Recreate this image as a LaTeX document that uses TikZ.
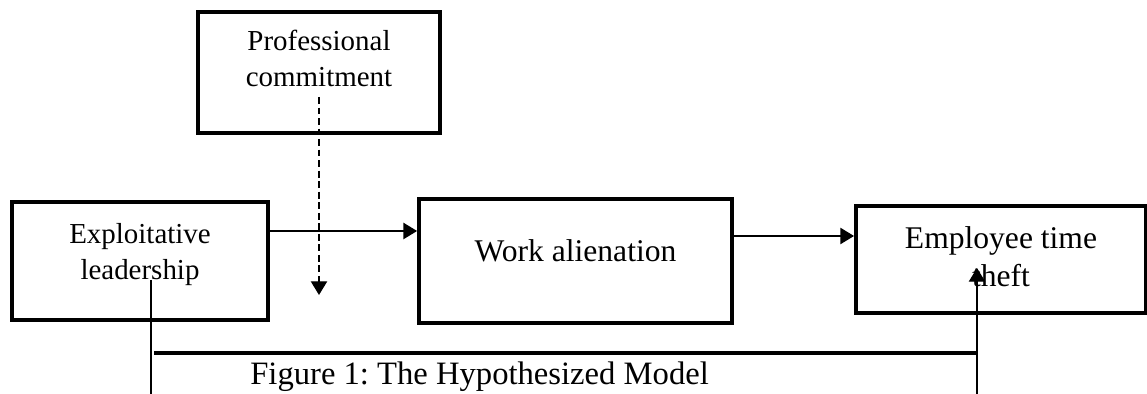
\documentclass[tikz,border=0pt]{standalone}
\usepackage{fontspec}
\setmainfont{Liberation Serif}
\frenchspacing
\usetikzlibrary{arrows.meta}
\tikzset{
   every path/.style={>={Triangle[length=5.2pt,width=6.2pt]}},
   box/.style={draw,line width=1.5pt,align=center,inner sep=0pt},
   smallbox/.style={box,font=\fontsize{11}{13.7}\selectfont},
   bigbox/.style={box,font=\fontsize{12}{14.4}\selectfont},
   arr/.style={->,line width=0.5pt},
   mod/.style={->,dash pattern=on 2.6pt off 1.4pt,line width=0.5pt},
   link/.style={line width=0.5pt},
   bar/.style={line width=1.25pt},
}
\newcommand{\darr}[2]{\draw[arr] (#1) -- (#2)}

\begin{document}
\begin{tikzpicture}[x=0.38pt,y=-0.38pt]
      \useasboundingbox (0,0) rectangle (1147,394);

      \node[smallbox,minimum width=97.3pt,minimum height=44.8pt,text depth=7pt] (ExpL) at (140,261) {Exploitative\\leadership};
      \node[smallbox,minimum width=92pt,minimum height=46pt,text depth=10.8pt] (ProfC) at (319,72.5) {Professional\\commitment};
      \node[bigbox,minimum width=118.9pt,minimum height=47.1pt,text depth=7.6pt] (WorkA) at (575.5,261) {Work alienation};
      \node[bigbox,minimum width=110.2pt,minimum height=40.7pt,text depth=2.3pt] (TimeT) at (1001,259.5) {Employee time\\theft};

      \darr{ExpL.east |- 0,231}{WorkA.west |- 0,231};
      \darr{WorkA.east |- 0,236}{TimeT.west |- 0,236};

      \coordinate (Mod) at (319,295);
      \draw[mod] (ProfC.center |- 0,97) -- (Mod);

      \coordinate (LeadT) at (151,280);
      \coordinate (BotL) at (151,394);
      \draw[link] (LeadT) -- (BotL);
      \coordinate (BarL) at (154,353);
      \coordinate (BarR) at (977,353);
      \draw[bar] (BarL) -- (BarR);
      \coordinate (BotR) at (977,394);
      \coordinate (TheftT) at (977,268);
      \darr{BotR}{TheftT};

      \node[anchor=base west,font=\fontsize{12.4}{15}\selectfont] (Cap) at (241,385) {Figure 1: The Hypothesized Model};
    \end{tikzpicture}
\end{document}
